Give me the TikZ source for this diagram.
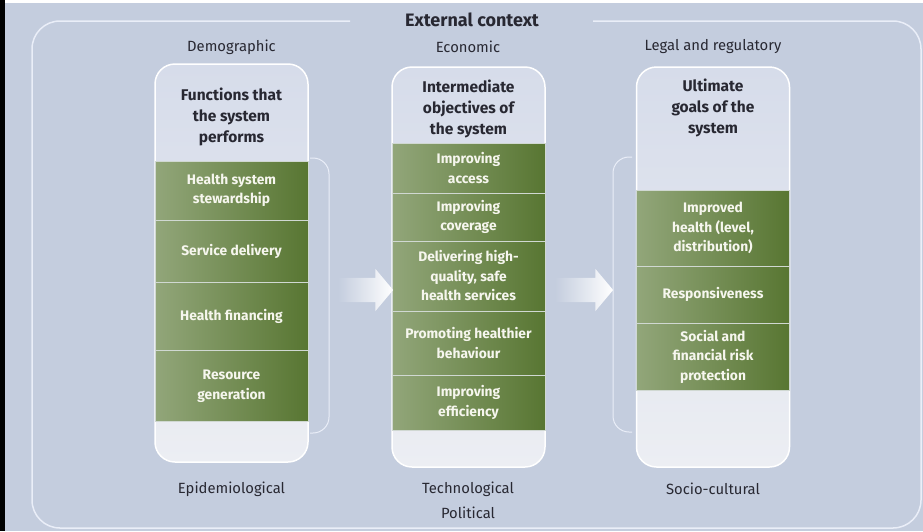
\documentclass[tikz,border=0pt]{standalone}
\usepackage{fontspec}
\setmainfont{Fira Sans}
\usetikzlibrary{shapes.arrows}

\definecolor{bgblue}{RGB}{196,205,222}
\definecolor{rimwhite}{RGB}{234,238,248}
\definecolor{coltop}{RGB}{214,220,234}
\definecolor{colbot}{RGB}{236,238,243}
\definecolor{leafdark}{RGB}{88,118,50}
\definecolor{leafmid}{RGB}{100,128,64}
\definecolor{leaflight}{RGB}{146,166,122}
\definecolor{inkdark}{RGB}{40,40,50}
\definecolor{leaftext}{RGB}{246,246,238}

\begin{document}
\begin{tikzpicture}[>=latex, x=1pt, y=-1pt,
		col/.style={rounded corners=20pt, draw=white, line width=1.5pt, top color=coltop, bottom color=colbot, minimum width=153pt, inner sep=0pt},
		seg/.style={draw=rimwhite!70!leaflight, line width=0.8pt, left color=leaflight, middle color=leafmid, right color=leafdark, minimum width=153pt, inner sep=0pt, align=center, text=leaftext, font=\bfseries\fontsize{13.8}{19.5}\selectfont},
		head/.style={align=center, text=inkdark, font=\bfseries\fontsize{15.5}{21}\selectfont},
		ctx/.style={text=inkdark, font=\fontsize{14.8}{20}\selectfont},
		flow/.style={single arrow, single arrow head extend=9pt, single arrow tip angle=100, inner xsep=0pt, inner ysep=12pt, left color=bgblue, right color=white}]
				\useasboundingbox (0,0) rectangle (923,531);

				% page edge and outer frame
				\fill[white] (0,0) rectangle (923,531);
				\fill[bgblue] (5,3) rectangle (923,531);
				\fill[black] (0,0) rectangle (5,531);
				\draw[rimwhite, line width=1.5pt, rounded corners=28pt] (350,21) -| (32,528) -| (921,21) -- (593,21);
				\node[font=\bfseries\fontsize{18}{20}\selectfont, text=inkdark] (ext) at (472,20) {External context};

				% the three columns
				\node[col, minimum height=398pt] (func) at (231.5,263) {};
				\node[col, minimum height=400pt] (obj) at (468.5,267) {};
				\node[col, minimum height=400pt] (goal) at (713,267) {};

				\node[head] (funchead) at (231.5,117) {Functions that\\the system\\performs};
				\node[head] (objhead) at (468.5,109) {Intermediate\\objectives of\\the system};
				\node[head] (goalhead) at (713,108) {Ultimate\\goals of the\\system};

				\foreach \n/\x/\y/\h/\t in {
						f1/231.5/190.5/59/{Health system\\stewardship},
						f2/231.5/251/62/{Service delivery},
						f3/231.5/316.5/68/{Health financing},
						f4/231.5/386/71.5/{Resource\\generation},
						o1/468.5/168/50/{Improving\\access},
						o2/468.5/217/48/{Improving\\coverage},
						o3/468.5/276/70/{Delivering high-\\quality, safe\\health services},
						o4/468.5/343/64/{Promoting healthier\\behaviour},
						o5/468.5/402.5/55/{Improving\\efficiency},
						g1/713/228/76/{Improved\\health (level,\\distribution)},
						g2/713/294.5/57/{Responsiveness},
						g3/713/356.5/67/{Social and\\financial risk\\protection}}
					{
						\node[seg, minimum height=\h pt] (\n) at (\x,\y) {\t};
					}

				% brackets beside the outer columns
				\draw[rimwhite, line width=1pt, rounded corners=16pt] (310,158) -| (329,433) -- (310,433);
				\draw[rimwhite, line width=1pt, rounded corners=16pt] (632,157) -| (613,432) -- (632,432);

				\node[flow, minimum height=55pt] (flowA) at (360.5,290) {};
				\node[flow, minimum height=58pt] (flowB) at (579,290) {};

				% external factors
				\node[ctx] (demo) at (231.5,47) {Demographic};
				\node[ctx] (econ) at (468,47) {Economic};
				\node[ctx] (legal) at (713,47) {Legal and regulatory};
				\node[ctx] (epid) at (231.5,489) {Epidemiological};
				\node[ctx] (tech) at (468,489) {Technological};
				\node[ctx] (poli) at (468,513) {Political};
				\node[ctx] (socio) at (713,489) {Socio-cultural};
			\end{tikzpicture}
\end{document}
